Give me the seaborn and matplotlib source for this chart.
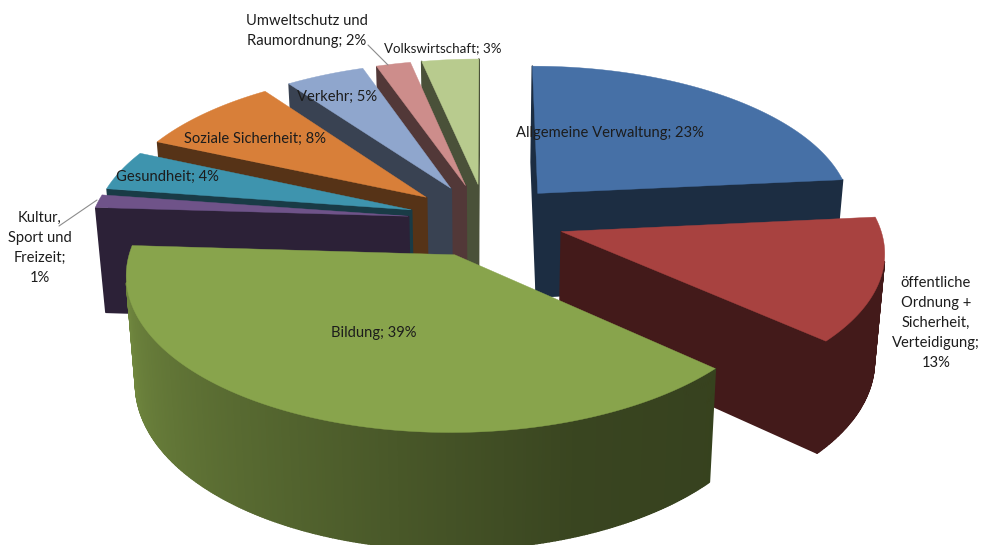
import numpy as np
import matplotlib
matplotlib.use("Agg")
import matplotlib.pyplot as plt
from matplotlib.collections import PolyCollection
import seaborn as sns

categories = ["Allgemeine Verwaltung", "öffentliche Ordnung + Sicherheit, Verteidigung", "Bildung",
              "Kultur, Sport und Freizeit", "Gesundheit", "Soziale Sicherheit", "Verkehr",
              "Umweltschutz und Raumordnung", "Volkswirtschaft"]
# unrounded shares, the labels show them rounded
values = [23.4, 13.2, 39.2, 1.4, 4.3, 8.4, 4.6, 2.0, 3.3]
slice_colors = ["#4670a6", "#a84240", "#88a44c", "#6f5389", "#3e94ae",
                "#d87f39", "#8fa6cd", "#cd8d8b", "#b8cb8e"]

# projection of the tilted pie, fitted by eye to the picture
cx, cy = 486, 220
rad_x, rad_y = 317, 148
persp = 0.1173
explode = 0.248
depth = 105
floor_scale = 0.974


def project(x, y):
    s = 1 / (1 + persp * y)
    return cx + rad_x * x * s, cy - rad_y * y * s, s


def floor_point(x, y):
    sx, sy, s = project(x, y)
    return cx + floor_scale * (sx - cx), cy + floor_scale * (sy - cy) + depth * s


def wall_shade(theta, i):
    # only the big slice has the gradient on its rim
    if categories[i] == "Bildung":
        return np.interp(theta, [132, 160, 280], [0.40, 0.42, 0.90])
    return 0.40


def pct(i):
    return f"{round(values[i])}%"


sns.set_theme(style="white")
plt.rcParams["font.family"] = ["Lato", "DejaVu Sans"]
palette = sns.color_palette(slice_colors)

fig = plt.figure(figsize=(9.82, 5.45), dpi=100)
ax = fig.add_axes([0, 0, 1, 1])
ax.set_xlim(0, 982)
ax.set_ylim(545, 0)
ax.axis("off")

edges = np.cumsum([0] + values) / sum(values) * 360
draw_order = [8, 7, 6, 5, 4, 3, 0, 1, 2]

for i in draw_order:
    th0, th1 = edges[i], edges[i + 1]
    mid = np.radians((th0 + th1) / 2)
    ox, oy = explode * np.sin(mid), explode * np.cos(mid)
    angles = np.linspace(th0, th1, max(int(th1 - th0) * 2, 4))
    xs = ox + np.sin(np.radians(angles))
    ys = oy + np.cos(np.radians(angles))
    # outline clockwise on screen: apex, rim, back to apex
    wx = np.concatenate([[ox], xs])
    wy = np.concatenate([[oy], ys])
    tx, ty, _ = project(wx, wy)
    bx, by = floor_point(wx, wy)
    base = np.array(palette[i])

    quads = []
    cols = []
    n = len(wx)
    for j in range(n):
        k = (j + 1) % n
        quad = [(tx[j], ty[j]), (tx[k], ty[k]), (bx[k], by[k]), (bx[j], by[j])]
        area = sum(quad[m][0] * quad[(m + 1) % 4][1] - quad[(m + 1) % 4][0] * quad[m][1] for m in range(4))
        if area >= 0:
            continue
        quads.append(quad)
        if j == 0 or k == 0:
            cols.append(tuple(base * 0.40))
        else:
            cols.append(tuple(base * wall_shade((angles[j - 1] + angles[k - 1]) / 2, i)))
    ax.add_collection(PolyCollection(quads, facecolors=cols, edgecolors=cols, linewidths=1.2))
    ax.fill(tx, ty, color=palette[i], lw=0.3)

text_color = "#1c1c1c"
label_font = 10.6
spacing = 1.55
ax.text(610, 133, f"{categories[0]}; {pct(0)}", ha="center", va="center", fontsize=label_font, color=text_color)
ax.text(936, 323, f"öffentliche\nOrdnung +\nSicherheit,\nVerteidigung;\n{pct(1)}", ha="center", va="center",
        fontsize=label_font, color=text_color, linespacing=spacing)
ax.text(374, 333, f"{categories[2]}; {pct(2)}", ha="center", va="center", fontsize=label_font, color=text_color)
ax.text(40, 248, f"Kultur,\nSport und\nFreizeit;\n{pct(3)}", ha="center", va="center",
        fontsize=label_font, color=text_color, linespacing=spacing)
ax.text(167, 177, f"{categories[4]}; {pct(4)}", ha="center", va="center", fontsize=label_font, color=text_color)
ax.text(255, 139, f"{categories[5]}; {pct(5)}", ha="center", va="center", fontsize=label_font, color=text_color)
ax.text(337, 97, f"{categories[6]}; {pct(6)}", ha="center", va="center", fontsize=label_font, color=text_color)
ax.text(307, 31, f"Umweltschutz und\nRaumordnung; {pct(7)}", ha="center", va="center",
        fontsize=label_font, color=text_color, linespacing=spacing)
ax.text(443, 48, f"{categories[8]}; {pct(8)}", ha="center", va="center", fontsize=9.6, color=text_color)

# leader lines
ax.plot([368, 388], [45, 65], color="#8c8c8c", lw=0.8)
ax.plot([59, 97], [226, 200], color="#8c8c8c", lw=0.8)

fig.savefig("out.png", dpi=100)
